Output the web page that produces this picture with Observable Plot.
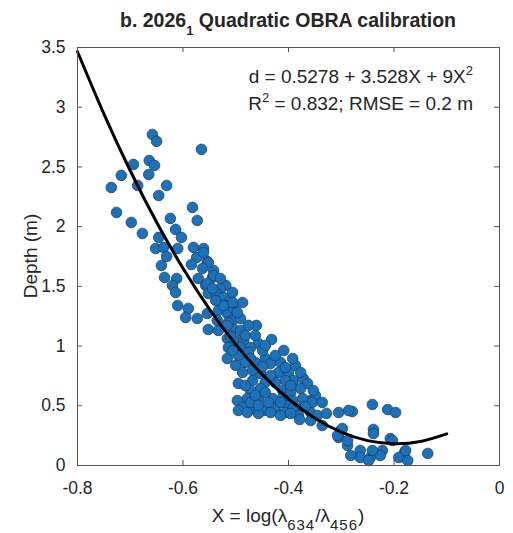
<!DOCTYPE html>
<html>
<head>
<meta charset="utf-8">
<script src="https://cdn.jsdelivr.net/npm/d3@7"></script>
<script src="https://cdn.jsdelivr.net/npm/@observablehq/plot@0.6"></script>
<style>
  body { margin: 0; background: white; }
  #wrap { position: relative; width: 513px; height: 533px; font-family: "Liberation Sans", Arial, sans-serif; color: #262626; }
  #wrap svg { position: absolute; left: 0; top: 0; }
  .ov { position: absolute; white-space: nowrap; }
  #title { left: 77px; width: 422px; top: 11px; text-align: center; font-weight: bold; font-size: 19.5px; line-height: 19.5px; }
  #title sub { font-size: 13px; vertical-align: -8px; line-height: 0; }
  #xlab { left: 77px; width: 422px; top: 506px; text-align: center; font-size: 19px; line-height: 19px; }
  #xlab sub { font-size: 15px; vertical-align: -8px; line-height: 0; letter-spacing: 1px; }
  #ylab { left: 30px; top: 256px; transform: translate(-50%, -50%) rotate(-90deg); font-size: 19px; line-height: 19px; }
  .ann { right: 40px; text-align: right; font-size: 19px; line-height: 19px; }
  .ann sup { font-size: 13px; vertical-align: 8px; line-height: 0; }
</style>
</head>
<body>
<div id="wrap">
  <div id="title" class="ov">b. 2026<sub>1</sub> Quadratic OBRA calibration</div>
  <div id="ylab" class="ov">Depth (m)</div>
  <div id="xlab" class="ov">X = log(λ<sub>634</sub>/λ<sub>456</sub>)</div>
  <div class="ov ann" style="top:67px">d = 0.5278 + 3.528X + 9X<sup>2</sup></div>
  <div class="ov ann" style="top:94px">R<sup>2</sup> = 0.832; RMSE = 0.2 m</div>
</div>
<script>
const obsX = [
-0.658,-0.650,-0.565,-0.694,-0.664,-0.654,-0.717,-0.665,-0.736,-0.686,
-0.631,-0.646,-0.726,-0.698,-0.624,-0.582,-0.573,-0.677,-0.646,-0.614,
-0.603,-0.580,-0.561,-0.652,-0.637,-0.610,-0.631,-0.574,-0.554,-0.584,
-0.641,-0.635,-0.612,-0.571,-0.544,-0.542,-0.557,-0.620,-0.614,-0.519,
-0.529,-0.552,-0.538,-0.523,-0.510,-0.610,-0.590,-0.595,-0.573,-0.554,
-0.533,-0.516,-0.504,-0.523,-0.506,-0.535,-0.561,-0.552,-0.563,-0.542,
-0.529,-0.554,-0.544,-0.506,-0.487,-0.506,-0.491,-0.514,-0.552,-0.533,
-0.504,-0.491,-0.461,-0.516,-0.500,-0.485,-0.457,-0.432,-0.514,-0.491,
-0.472,-0.516,-0.495,-0.476,-0.463,-0.444,-0.434,-0.415,-0.387,-0.500,
-0.487,-0.419,-0.400,-0.453,-0.495,-0.468,-0.444,-0.425,-0.391,-0.372,
-0.364,-0.377,-0.453,-0.472,-0.411,-0.396,-0.478,-0.457,-0.430,-0.411,
-0.392,-0.358,-0.349,-0.497,-0.487,-0.466,-0.447,-0.425,-0.402,-0.381,
-0.472,-0.406,-0.358,-0.381,-0.345,-0.353,-0.355,-0.336,-0.373,-0.391,
-0.328,-0.305,-0.279,-0.241,-0.212,-0.197,-0.379,-0.358,-0.336,-0.301,
-0.305,-0.239,-0.239,-0.207,-0.288,-0.264,-0.282,-0.264,-0.245,-0.222,
-0.226,-0.241,-0.203,-0.180,-0.191,-0.174,-0.136,-0.286,-0.288,-0.298,
-0.307,-0.248,-0.178,-0.538,-0.516,-0.482,-0.472,-0.449,-0.406,-0.434,
-0.482,-0.463,-0.438,-0.415,-0.396,-0.444,-0.506,-0.482,-0.425,-0.406,
-0.377,-0.510,-0.468,-0.495,-0.478,-0.457,-0.434,-0.457,-0.415,-0.396,
-0.368,-0.449,-0.463,-0.409,-0.392,-0.444,-0.476,-0.497
];
const obsDepth = [
2.772,2.714,2.647,2.521,2.554,2.513,2.429,2.437,2.328,2.345,
2.345,2.261,2.119,2.035,2.069,2.161,2.052,1.943,1.910,1.977,
1.910,1.826,1.817,1.817,1.826,1.817,1.750,1.742,1.709,1.683,
1.675,1.575,1.566,1.566,1.575,1.633,1.508,1.508,1.449,1.508,
1.482,1.441,1.449,1.407,1.382,1.340,1.315,1.240,1.231,1.273,
1.298,1.273,1.315,1.340,1.214,1.214,1.784,1.700,1.650,1.591,
1.566,1.524,1.482,1.449,1.365,1.365,1.231,1.198,1.139,1.131,
1.139,1.131,1.173,1.064,1.047,1.047,1.022,1.055,0.988,0.988,
0.988,0.896,0.921,0.946,0.863,0.896,0.854,0.863,0.838,0.838,
0.779,0.779,0.779,0.771,0.687,0.712,0.695,0.695,0.712,0.729,
0.687,0.645,0.645,0.628,0.628,0.611,0.561,0.561,0.561,0.570,
0.544,0.544,0.586,0.544,0.486,0.477,0.461,0.486,0.503,0.477,
0.528,0.444,0.444,0.419,0.419,0.628,0.528,0.528,0.561,0.486,
0.436,0.444,0.452,0.511,0.469,0.444,0.385,0.377,0.335,0.293,
0.235,0.302,0.268,0.226,0.168,0.126,0.084,0.067,0.067,0.126,
0.084,0.126,0.209,0.109,0.067,0.042,0.101,0.461,0.209,0.310,
0.251,0.042,0.126,1.382,1.173,1.089,0.896,0.829,0.712,0.754,
0.670,0.586,0.528,0.528,0.670,0.611,0.963,0.863,0.921,0.821,
0.779,1.080,0.796,0.461,0.444,0.436,0.444,0.503,0.419,0.436,
0.494,0.963,1.089,0.963,0.896,1.005,1.173,1.281
];
// fitted curve d = 0.5278 + 3.528X + 9X^2, tabulated
const fitX = [-0.80,-0.75,-0.70,-0.65,-0.60,-0.55,-0.50,-0.45,-0.40,-0.35,-0.30,-0.25,-0.20,-0.15,-0.10];
const fitD = [3.4654,2.9443,2.4682,2.0371,1.6510,1.3099,1.0138,0.7627,0.5566,0.3955,0.2794,0.2083,0.1822,0.2011,0.2650];
const xTicks = [-0.8,-0.6,-0.4,-0.2,0];
const yTicks = [0,0.5,1,1.5,2,2.5,3,3.5];

const obs = obsX.map((x, i) => ({x, d: obsDepth[i]}));
const fit = fitX.map((x, i) => ({x, d: fitD[i]}));
const fmt = d => String(d);

const W = 513, H = 533, mL = 77, mR = 14, mT = 47, mB = 68;
const innerW = W - mL - mR, innerH = H - mT - mB;
const axisCol = "#555";

const chart = Plot.plot({
  width: W, height: H,
  marginLeft: mL, marginRight: mR, marginTop: mT, marginBottom: mB,
  style: {fontFamily: '"Liberation Sans", Arial, sans-serif', fontSize: "17.5px", color: "#262626", background: "transparent"},
  x: {domain: [-0.8, 0]},
  y: {domain: [0, 3.5]},
  marks: [
    Plot.axisX(xTicks, {anchor: "bottom", tickSize: 0, tickPadding: 16, tickFormat: fmt, label: null, fontSize: 17.5}),
    Plot.axisY(yTicks, {anchor: "left", tickSize: 0, tickPadding: 12, tickFormat: fmt, label: null, fontSize: 17.5}),
    Plot.tickX(xTicks, {x: d => d, insetTop: innerH - 5, stroke: axisCol}),
    Plot.tickX(xTicks, {x: d => d, insetBottom: innerH - 5, stroke: axisCol}),
    Plot.tickY(yTicks, {y: d => d, insetRight: innerW - 5, stroke: axisCol}),
    Plot.tickY(yTicks, {y: d => d, insetLeft: innerW - 5, stroke: axisCol}),
    Plot.dot(obs, {x: "x", y: "d", r: 5.3, fill: "#1a72bb", stroke: "#243f5c", strokeWidth: 0.8}),
    Plot.line(fit, {x: "x", y: "d", curve: "natural", stroke: "black", strokeWidth: 3}),
    Plot.frame({stroke: axisCol, strokeWidth: 1})
  ]
});
document.getElementById("wrap").prepend(chart);
</script>
</body>
</html>
